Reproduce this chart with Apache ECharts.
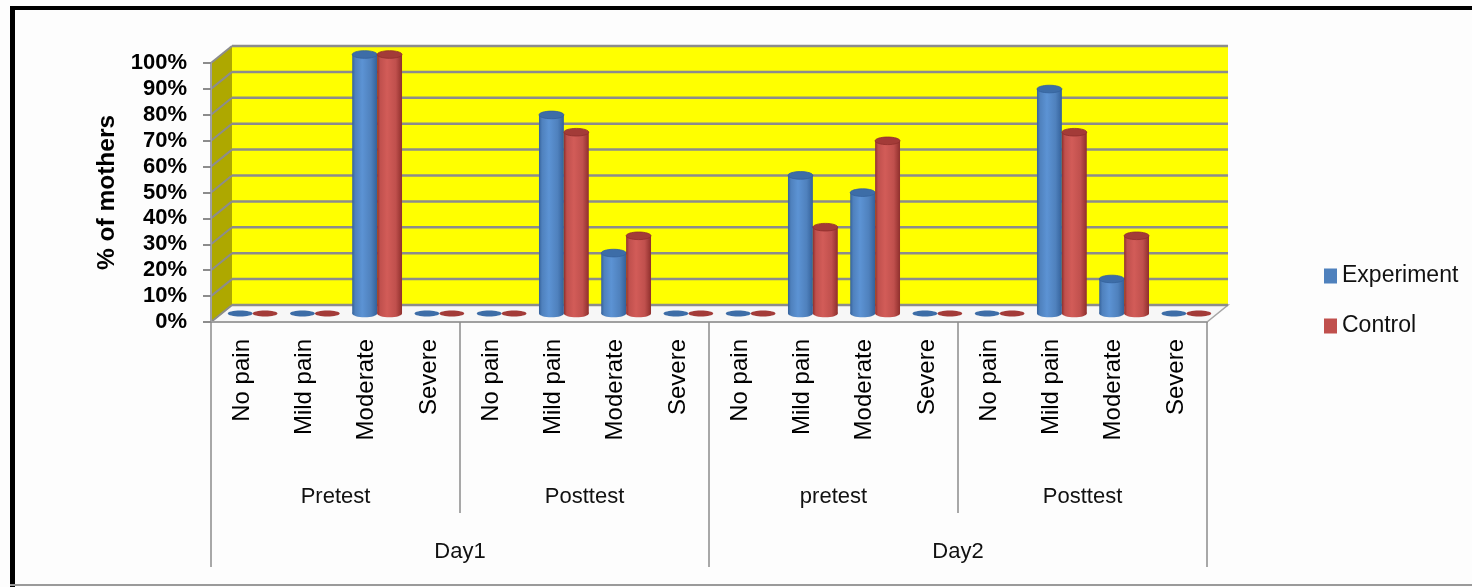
<!DOCTYPE html>
<html>
<head>
<meta charset="utf-8">
<script src="https://cdn.jsdelivr.net/npm/echarts@6/dist/echarts.min.js"></script>
<style>
  html, body { margin: 0; padding: 0; background: #fdfdfd; }
  #chart { width: 1472px; height: 587px; }
</style>
</head>
<body>
<div id="chart"></div>
<script>
// Pain level categories, grouped by test phase and day
const painLevels = ['No pain', 'Mild pain', 'Moderate', 'Severe'];
const phases = ['Pretest', 'Posttest', 'pretest', 'Posttest'];
const days = ['Day1', 'Day2'];
const categories = phases.flatMap(() => painLevels);

// Percentage of mothers in each pain level
const experiment = [0, 0, 100, 0,   0, 76.67, 23.33, 0,   0, 53.33, 46.67, 0,   0, 86.67, 13.33, 0];
const control    = [0, 0, 100, 0,   0, 70, 30, 0,         0, 33.33, 66.67, 0,   0, 70, 30, 0];

// Value axis ticks
const yTicks = [0, 10, 20, 30, 40, 50, 60, 70, 80, 90, 100];

// Depth of the pseudo-3D box
const DX = 21, DY = -17;
const GRID_GREY = '#8c8c8c';

const chart = echarts.init(document.getElementById('chart'), null, { renderer: 'canvas' });

function wallRender(params, api) {
  const bw = api.size([1, 0])[0];
  const first = api.coord([0, 0]);
  const last = api.coord([categories.length - 1, 0]);
  const xL = first[0] - bw / 2;
  const xR = last[0] + bw / 2;
  const y0 = first[1];
  const yTop = api.coord([0, yTicks[yTicks.length - 1]])[1];
  const children = [];
  // floor
  children.push({
    type: 'polygon',
    shape: { points: [[xL, y0], [xR, y0], [xR + DX, y0 + DY], [xL + DX, y0 + DY]] },
    style: { fill: '#f7f7f7', stroke: '#a6a6a6', lineWidth: 1.5 }
  });
  // side wall
  children.push({
    type: 'polygon',
    shape: { points: [[xL, y0], [xL + DX, y0 + DY], [xL + DX, yTop + DY], [xL, yTop]] },
    style: { fill: '#aea800' }
  });
  // back wall
  children.push({
    type: 'rect',
    shape: { x: xL + DX, y: yTop + DY, width: xR - xL, height: y0 - yTop },
    style: { fill: '#ffff00' }
  });
  // gridlines on back and side walls
  yTicks.forEach(t => {
    const y = api.coord([0, t])[1];
    children.push({
      type: 'line',
      shape: { x1: xL + DX, y1: y + DY, x2: xR + DX, y2: y + DY },
      style: { stroke: GRID_GREY, lineWidth: 2.5 }
    });
    children.push({
      type: 'line',
      shape: { x1: xL, y1: y, x2: xL + DX, y2: y + DY },
      style: { stroke: GRID_GREY, lineWidth: 2 }
    });
  });
  return { type: 'group', children };
}

const palettes = [
  { edge: '#34619a', mid: '#4f81bd', light: '#5c93d4', top: '#3d6da7' },
  { edge: '#8f2f2c', mid: '#c0504d', light: '#d25c58', top: '#a33b38' }
];

function cylinderRender(seriesIdx) {
  const pal = palettes[seriesIdx];
  const bodyFill = new echarts.graphic.LinearGradient(0, 0, 1, 0, [
    { offset: 0, color: pal.edge },
    { offset: 0.12, color: pal.mid },
    { offset: 0.4, color: pal.light },
    { offset: 0.75, color: pal.mid },
    { offset: 1, color: pal.edge }
  ]);
  return function (params, api) {
    const i = api.value(0);
    const v = api.value(1);
    const bw = api.size([1, 0])[0];
    const base = api.coord([i, 0]);
    const top = api.coord([i, v]);
    const w = bw * 0.4;
    const cx = base[0] + DX / 2 + (seriesIdx === 0 ? -w / 2 : w / 2);
    const yb = base[1] + DY / 2;
    const yt = top[1] + DY / 2;
    const rx = w / 2;
    if (v === 0) {
      return {
        type: 'ellipse',
        shape: { cx, cy: yb, rx, ry: 3 },
        style: { fill: pal.top }
      };
    }
    const ry = 3.8;
    return {
      type: 'group',
      children: [
        { type: 'ellipse', shape: { cx, cy: yb, rx, ry }, style: { fill: bodyFill } },
        { type: 'rect', shape: { x: cx - rx, y: yt, width: w, height: yb - yt }, style: { fill: bodyFill } },
        { type: 'ellipse', shape: { cx, cy: yt, rx, ry }, style: { fill: pal.top, stroke: pal.edge, lineWidth: 0.8 } }
      ]
    };
  };
}

const FONT = '"Liberation Sans", Arial, sans-serif';

const option = {
  animation: false,
  backgroundColor: '#fdfdfd',
  color: ['#4f81bd', '#c0504d'],
  grid: { left: 211, right: 265, top: 63, bottom: 265, containLabel: false },
  legend: {
    data: ['Experiment', 'Control'],
    orient: 'vertical',
    left: 1319,
    top: 258,
    icon: 'rect',
    itemWidth: 13,
    itemHeight: 15,
    itemGap: 24,
    textStyle: { fontFamily: FONT, fontSize: 23, color: '#111', lineHeight: 26 }
  },
  xAxis: [
    {
      type: 'category',
      data: categories,
      boundaryGap: true,
      z: 3,
      axisLine: { show: true, lineStyle: { color: '#a0a0a0', width: 2 } },
      axisTick: { show: false },
      axisLabel: {
        interval: 0, rotate: 90, margin: 17,
        fontFamily: FONT, fontSize: 24, color: '#000'
      }
    },
    {
      type: 'category',
      data: phases,
      boundaryGap: true,
      position: 'bottom',
      z: 3,
      axisLine: { show: false },
      axisTick: { show: true, length: 191, lineStyle: { color: GRID_GREY, width: 1.5 } },
      axisLabel: {
        interval: 0, margin: 175, verticalAlign: 'middle',
        fontFamily: FONT, fontSize: 22, color: '#111'
      }
    },
    {
      type: 'category',
      data: days,
      boundaryGap: true,
      position: 'bottom',
      z: 3,
      axisLine: { show: false },
      axisTick: { show: true, length: 245, lineStyle: { color: GRID_GREY, width: 1.5 } },
      axisLabel: {
        interval: 0, margin: 230, verticalAlign: 'middle',
        fontFamily: FONT, fontSize: 22, color: '#111'
      }
    }
  ],
  yAxis: {
    type: 'value',
    min: 0,
    max: 100,
    interval: 10,
    z: 3,
    name: '% of mothers',
    nameLocation: 'middle',
    nameRotate: 90,
    nameGap: 90,
    nameTextStyle: { fontFamily: FONT, fontSize: 24.5, fontWeight: 'bold', color: '#000' },
    axisLine: { show: true, lineStyle: { color: '#a0a0a0', width: 2 } },
    axisTick: { show: true, length: 8, lineStyle: { color: GRID_GREY, width: 2 } },
    splitLine: { show: false },
    axisLabel: {
      margin: 24,
      formatter: '{value}%',
      fontFamily: FONT, fontSize: 22, fontWeight: 'bold', color: '#000'
    }
  },
  graphic: [
    { type: 'rect', silent: true, shape: { x: 10, y: 6, width: 1462, height: 4 }, style: { fill: '#000' } },
    { type: 'rect', silent: true, shape: { x: 10, y: 6, width: 5, height: 581 }, style: { fill: '#000' } },
    { type: 'rect', silent: true, shape: { x: 10, y: 584, width: 1462, height: 2 }, style: { fill: '#9a9a9a' } }
  ],
  series: [
    {
      type: 'custom',
      name: 'walls',
      silent: true,
      clip: false,
      z: 1,
      encode: { x: 0, y: 1 },
      data: [[0, 0]],
      renderItem: wallRender
    },
    {
      type: 'custom',
      name: 'Experiment',
      clip: false,
      z: 4,
      encode: { x: 0, y: 1 },
      itemStyle: { color: '#4f81bd' },
      data: experiment.map((v, i) => [i, v]),
      renderItem: cylinderRender(0)
    },
    {
      type: 'custom',
      name: 'Control',
      clip: false,
      z: 4,
      encode: { x: 0, y: 1 },
      itemStyle: { color: '#c0504d' },
      data: control.map((v, i) => [i, v]),
      renderItem: cylinderRender(1)
    }
  ]
};

chart.setOption(option);
</script>
</body>
</html>
